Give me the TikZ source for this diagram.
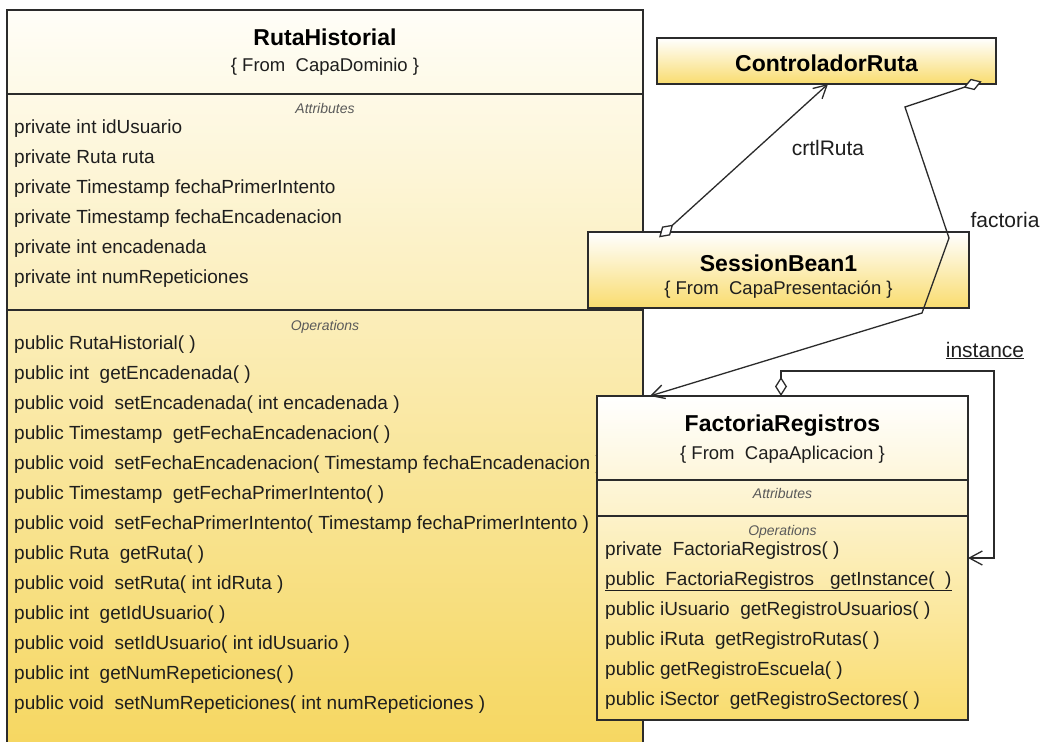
\documentclass[tikz,border=0pt]{standalone}
\usepackage{fontspec}
\setmainfont{Liberation Sans}
\usetikzlibrary{arrows.meta,calc}
\definecolor{boxline}{HTML}{2B2B2B}
\definecolor{ylw}{HTML}{F9DC6E}
\definecolor{ylwdeep}{HTML}{F5D55A}
\definecolor{cream}{HTML}{FFFEF8}
\definecolor{comptxt}{HTML}{5A5A5A}
\definecolor{memtxt}{HTML}{1E1E1E}
\begin{document}
\begin{tikzpicture}[x=1pt,y=-1pt,
 clsbox/.style={draw=boxline,line width=1.8pt,rectangle,anchor=north west,inner sep=0pt,outer sep=0pt},
 ttl/.style={font=\fontsize{23}{23}\selectfont\bfseries,text=black,inner sep=0pt,anchor=base},
 subttl/.style={font=\fontsize{18.5}{18.5}\selectfont,text=memtxt,inner sep=0pt,anchor=base},
 member/.style={font=\fontsize{19}{19}\selectfont,text=memtxt,anchor=base west,inner sep=0pt},
 comptitle/.style={font=\fontsize{14}{14}\selectfont\itshape,text=comptxt,inner sep=0pt,anchor=base},
 sepline/.style={draw=boxline,line width=1.5pt},
 assocline/.style={draw=boxline,line width=1.3pt,line join=miter},
 assoclabel/.style={font=\fontsize{21}{21}\selectfont,text=memtxt,inner sep=0pt,anchor=base},
 dbarb/.style={{Diamond[fill=white,length=19pt,width=12pt]}-{Straight Barb[length=13pt,width=14pt]}}
]
\useasboundingbox (0,0) rectangle (1045,742);
\fill[white] (0,0) rectangle (1045,742);
\clip (0,0) rectangle (1045,742);

% ---------------- RutaHistorial
\node[clsbox, minimum width=636, minimum height=770, top color=cream, bottom color=ylwdeep] (rh) at (7,10) {};
\draw[sepline] ($(rh.north west)+(0,84)$) -- ($(rh.north east)+(0,84)$);
\draw[sepline] ($(rh.north west)+(0,300)$) -- ($(rh.north east)+(0,300)$);
\node[ttl] (rht) at ($(rh.north)+(0,35)$) {RutaHistorial};
\node[subttl] (rhs) at ($(rh.north)+(0,61)$) {\{ From~ CapaDominio \}};
\node[comptitle] (rhat) at ($(rh.north)+(0,103)$) {Attributes};
\foreach \t [count=\i from 0] in {
 private int idUsuario,
 private Ruta ruta,
 private Timestamp fechaPrimerIntento,
 private Timestamp fechaEncadenacion,
 private int encadenada,
 private int numRepeticiones}
 \node[member] (rha\i) at (14,133+30*\i) {\t};
\node[comptitle] (rhot) at ($(rh.north)+(0,320)$) {Operations};
\foreach \t [count=\i from 0] in {
 public RutaHistorial( ),
 public int~ getEncadenada( ),
 public void~ setEncadenada( int encadenada ),
 public Timestamp~ getFechaEncadenacion( ),
 public void~ setFechaEncadenacion( Timestamp fechaEncadenacion ),
 public Timestamp~ getFechaPrimerIntento( ),
 public void~ setFechaPrimerIntento( Timestamp fechaPrimerIntento ),
 public Ruta~ getRuta( ),
 public void~ setRuta( int idRuta ),
 public int~ getIdUsuario( ),
 public void~ setIdUsuario( int idUsuario ),
 public int~ getNumRepeticiones( ),
 public void~ setNumRepeticiones( int numRepeticiones )}
 \node[member] (rho\i) at (14,349+30*\i) {\t};

% ---------------- SessionBean1
\node[clsbox, minimum width=381, minimum height=76, top color=white, bottom color=ylw] (sb) at (588,232) {};
\node[ttl] (sbt) at ($(sb.north)+(0,39)$) {SessionBean1};
\node[subttl] (sbs) at ($(sb.north)+(0,62)$) {\{ From~ CapaPresentación \}};

% ---------------- ControladorRuta
\node[clsbox, minimum width=339, minimum height=46, top color=white, bottom color=ylw] (ctrl) at (657,38) {};
\node[ttl] (ctrlt) at ($(ctrl.north)+(0,33)$) {ControladorRuta};

% ---------------- FactoriaRegistros
\node[clsbox, minimum width=371, minimum height=324, top color=white, bottom color=ylw] (fr) at (597,396) {};
\draw[sepline] ($(fr.north west)+(0,84)$) -- ($(fr.north east)+(0,84)$);
\draw[sepline] ($(fr.north west)+(0,120)$) -- ($(fr.north east)+(0,120)$);
\node[ttl] (frt) at ($(fr.north)+(0,35)$) {FactoriaRegistros};
\node[subttl] (frs) at ($(fr.north)+(0,63)$) {\{ From~ CapaAplicacion \}};
\node[comptitle] (frat) at ($(fr.north)+(0,102)$) {Attributes};
\node[comptitle] (frot) at ($(fr.north)+(0,139)$) {Operations};
\foreach \t [count=\i from 0] in {
 private~ FactoriaRegistros( ),
 {\underline{public~ FactoriaRegistros~~ getInstance(~ )}},
 public iUsuario~ getRegistroUsuarios( ),
 public iRuta~ getRegistroRutas( ),
 public getRegistroEscuela( ),
 public iSector~ getRegistroSectores( )}
 \node[member] (fro\i) at (605,555+30*\i) {\t};

% ---------------- connectors
\coordinate (fb1) at (905,107);
\coordinate (fb2) at (949,238);
\coordinate (fb3) at (922,313);
\coordinate (il1) at (994,371);

\draw[assocline, dbarb, shorten <=-8pt] ($(sb.north west)+(77,0)$) -- ($(ctrl.south west)+(171,0)$);
\draw[assocline, dbarb, shorten <=-8pt] ($(ctrl.south east)+(-22,0)$) -- (fb1) -- (fb2) -- (fb3) -- ($(fr.north west)+(53,0)$);
\draw[assocline, dbarb] ($(fr.north west)+(184,0)$) |- (il1) |- ($(fr.north east)+(0,162)$);

\node[assoclabel] (lcrtl) at (828,155) {crtlRuta};
\node[assoclabel] (lfact) at (1005,227) {factoria};
\node[assoclabel] (linst) at (985,357) {\underline{instance}};
\end{tikzpicture}
\end{document}
